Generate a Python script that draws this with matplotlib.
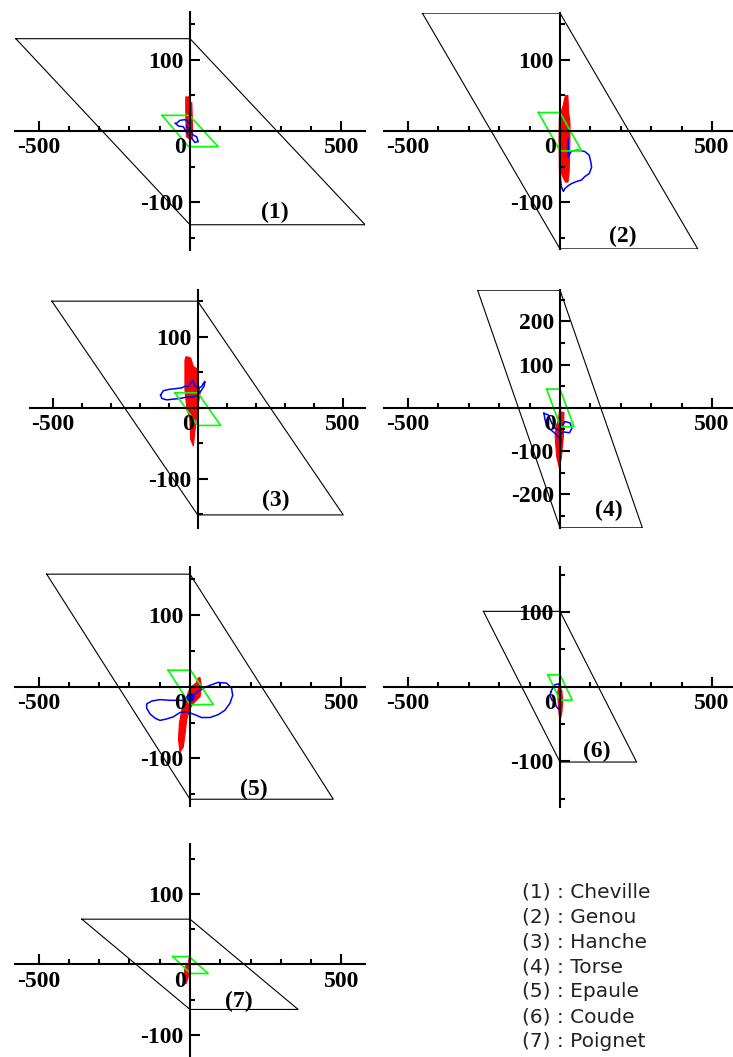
import matplotlib.pyplot as plt
from matplotlib.ticker import FixedLocator, MultipleLocator

plt.rcParams['axes.unicode_minus'] = False

W, H = 733, 1057

# black parallelograms (one per joint)
outer = [
    [(-575, 130), (0, 130), (578, -132), (0, -132)],
    [(-453, 166), (0, 166), (453, -166), (0, -166)],
    [(-503, 150), (0, 150), (502, -151), (0, -151)],
    [(-271, 272), (0, 272), (271, -278), (0, -278)],
    [(-473, 157), (0, 157), (473, -157), (0, -157)],
    [(-252, 101), (0, 101), (252, -101), (0, -101)],
    [(-357, 64), (0, 64), (357, -64), (0, -64)],
]

# green parallelograms
inner = [
    [(-92, 22), (-2, 22), (93, -22), (-5, -22)],
    [(-71, 26), (0, 26), (71, -28), (0, -28)],
    [(-79, 21), (0, 21), (79, -25), (0, -25)],
    [(-44, 43), (0, 43), (46, -44), (2, -44)],
    [(-72, 23), (2, 23), (77, -25), (0, -25)],
    [(-40, 16), (0, 16), (40, -18), (0, -18)],
    [(-57, 11), (-3, 11), (60, -13), (2, -13)],
]

# red areas (outline of the dense trace)
red = [
    [(-14, 48), (-3, 48), (-3, 40), (6, 40), (8, 10), (8, -10), (0, -12), (-12, -8), (-14, 20)],
    [(18, 50), (26, 50), (28, 30), (33, 10), (32, -30), (30, -60), (26, -72), (18, -72),
     (-2, -55), (-3, -10), (-2, 20), (10, 35), (15, 45)],
    [(-40, 72), (-24, 70), (-15, 58), (-3, 55), (2, 34), (8, 20), (-3, -8), (-9, -31),
     (-15, -54), (-24, -45), (-27, -17), (-38, 1), (-44, 25), (-44, 67)],
    [(-2, -9), (13, -11), (11, -67), (5, -113), (-2, -140), (-11, -113), (-16, -67),
     (-13, -44), (-5, -28)],
    [(33, 13), (38, 0), (33, -14), (16, -21), (0, -30), (-11, -46), (-16, -65), (-22, -84),
     (-33, -91), (-38, -74), (-35, -51), (-27, -32), (-16, -23), (-5, -7), (5, 0), (20, 5), (27, 12)],
    [(-5, -2), (6, -5), (9, -20), (6, -35), (2, -42), (-3, -38), (-6, -20), (-8, -8)],
    [(-2, 13), (0, -3), (-5, -17), (-13, -28), (-20, -17), (-16, -3), (-5, 1)],
]

# blue curves
blue = [
    [(-44, 11), (-33, 15), (-16, 16), (-5, 13), (-11, 6), (0, 1), (11, -6), (22, -8), (27, -15),
     (16, -16), (5, -10), (-5, -6), (-22, 6), (-38, 7), (-49, 11)],
    [(27, -10), (27, -36), (38, -28), (60, -27), (82, -29), (96, -34), (101, -43), (104, -51),
     (96, -60), (82, -64), (71, -69), (55, -71), (38, -74), (27, -77), (16, -81), (11, -85),
     (5, -79), (2, -69), (0, -55), (0, -43)],
    [(-128, 18), (-118, 24), (-95, 26), (-72, 27), (-55, 28), (-44, 30), (-32, 30), (-24, 35),
     (-17, 38), (-9, 30), (2, 27), (14, 30), (19, 34), (25, 37), (22, 30), (10, 23), (2, 18),
     (-15, 15), (-38, 15), (-61, 13), (-84, 12), (-107, 11), (-124, 13), (-128, 18)],
    [(-53, -13), (-38, -17), (-27, -36), (-16, -48), (0, -52), (16, -32), (33, -35), (39, -48),
     (31, -58), (11, -56), (0, -63), (5, -82), (-5, -67), (-22, -56), (-44, -44), (-49, -28),
     (-53, -13)],
    [(0, -15), (22, -8), (44, -2), (66, 2), (93, 6), (121, 5), (137, -2), (141, -12), (132, -23),
     (115, -33), (93, -39), (66, -43), (38, -43), (16, -39), (-11, -35), (-33, -36), (-55, -42),
     (-77, -45), (-99, -47), (-115, -44), (-132, -38), (-143, -30), (-143, -24), (-126, -20),
     (-99, -18), (-66, -19), (-38, -19), (-16, -19), (0, -15)],
    [(-30, -7), (-20, 2), (-5, 4), (2, -2), (0, -13), (2, -27), (-5, -30), (-13, -26),
     (-16, -20), (-27, -18), (-33, -11), (-30, -7)],
    [(-64, 1), (0, 1)],
]

names = ['Cheville', 'Genou', 'Hanche', 'Torse', 'Epaule', 'Coude', 'Poignet']
yticks = [[-100, 100], [-100, 100], [-100, 100], [-200, -100, 100, 200],
          [-100, 100], [-100, 100], [-100, 100]]
ylims = [(-168, 168), (-166, 166), (-169, 166), (-278, 272), (-167, 167), (-161, 161), (-131, 171)]
label_pos = [(280, -115), (206, -149), (270, -130), (159, -238), (209, -144), (121, -87), (160, -53)]

# panel boxes in pixels: left, right, top, bottom
boxes = [
    (14.9, 365.1, 11.7, 250.3),
    (384.3, 735.7, 13.1, 248.9),
    (30.1, 365.3, 289.8, 527.7),
    (384.3, 735.7, 290.2, 527.8),
    (14.9, 365.1, 567.0, 806.4),
    (384.3, 735.7, 566.6, 806.8),
    (14.9, 365.1, 843.7, 1056.7),
]

fig = plt.figure(figsize=(W / 100, H / 100), dpi=100)
serif = dict(family='Liberation Serif', weight='bold', size=17)

for i in range(7):
    l, r, t, b = boxes[i]
    ax = fig.add_axes([l / W, 1 - b / H, (r - l) / W, (b - t) / H])
    ax.patch.set_visible(False)
    ax.set_xlim(-578, 578)
    ax.set_ylim(*ylims[i])

    ox, oy = zip(*(outer[i] + outer[i][:1]))
    ax.plot(ox, oy, color='black', lw=0.8)
    rx, ry = zip(*red[i])
    ax.fill(rx, ry, color='red', lw=0.8)
    bx, by = zip(*blue[i])
    ax.plot(bx, by, color='blue', lw=1.1)
    gx, gy = zip(*(inner[i] + inner[i][:1]))
    ax.plot(gx, gy, color='#00ff00', lw=1.2)
    if i == 4:
        ax.plot(bx[0], by[0], 'o', color='blue', ms=5)

    for s in ['top', 'right']:
        ax.spines[s].set_visible(False)
    for s in ['left', 'bottom']:
        ax.spines[s].set_position(('data', 0))
        ax.spines[s].set_linewidth(1.5)
    ax.xaxis.set_major_locator(FixedLocator([-500, 500]))
    ax.xaxis.set_minor_locator(MultipleLocator(100))
    ax.yaxis.set_major_locator(FixedLocator(yticks[i]))
    ax.yaxis.set_minor_locator(MultipleLocator(50))
    ax.tick_params(which='both', direction='in', width=1.5)
    ax.tick_params(which='major', length=7, pad=4.5)
    ax.tick_params(which='minor', length=3.6)
    for lab in ax.get_xticklabels() + ax.get_yticklabels():
        lab.set(**serif)
    ax.annotate('0', xy=(0, 0), xytext=(-7, -4.5), textcoords='offset points',
                ha='center', va='top', **serif)
    ax.text(label_pos[i][0], label_pos[i][1], '(%d)' % (i + 1), ha='center', va='center', **serif)

for i, name in enumerate(names):
    fig.text(521.7 / W, 1 - (891.7 + 25 * i) / H, '(%d) : %s' % (i + 1, name),
             ha='left', va='center', family='DejaVu Sans', size=14.5, color='#222222')

fig.savefig('out.png', dpi=100)
